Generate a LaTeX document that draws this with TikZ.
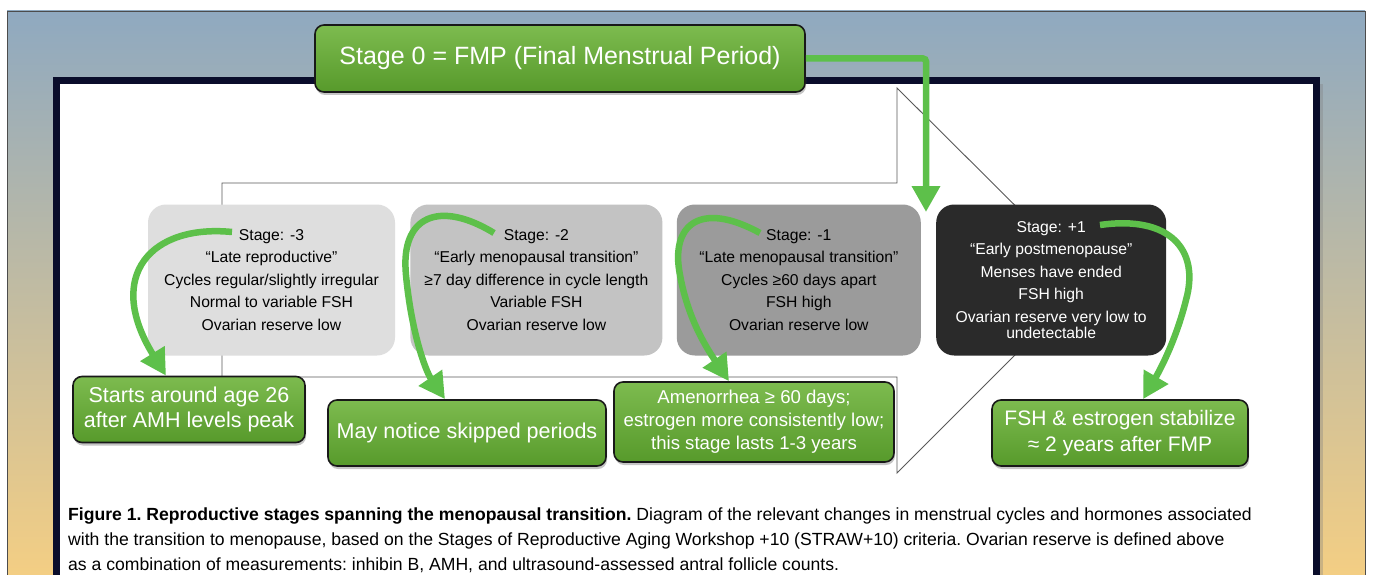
\documentclass[tikz,border=0pt]{standalone}
\usepackage{fontspec}
\setmainfont{Liberation Sans}
\usetikzlibrary{positioning,arrows.meta,shadows}

\definecolor{skytop}{HTML}{8FA9C0}
\definecolor{skymid}{HTML}{AEB7B3}
\definecolor{skybot}{HTML}{F6CF82}
\definecolor{navy}{HTML}{0A0D2B}
\definecolor{leafhi}{HTML}{7DBB4F}
\definecolor{leaflo}{HTML}{579A2B}
\definecolor{arrowgreen}{HTML}{5DC04A}
\definecolor{stagea}{HTML}{DEDEDE}
\definecolor{stageb}{HTML}{C3C3C3}
\definecolor{stagec}{HTML}{9B9B9B}
\definecolor{staged}{HTML}{2A2A2A}

\begin{document}
\begin{tikzpicture}[x=1pt,y=-1pt,
    stagebox/.style={rectangle,rounded corners=18pt,minimum height=151pt,align=center,inner sep=0pt,font=\fontsize{15.7}{22.5}\selectfont},
    notebox/.style={rectangle,rounded corners=9pt,draw=black!90,line width=1.6pt,top color=leafhi,bottom color=leaflo,text=white,align=center,minimum height=66pt,inner sep=0pt,drop shadow={shadow xshift=1pt,shadow yshift=-3pt,opacity=0.45}},
    greenarrow/.style={draw=arrowgreen,line width=6.5pt,-{Triangle[width=27pt,length=26pt]}}]

\useasboundingbox (0,0) rectangle (1373,575);

% Fond et page
\shadedraw[top color=skytop,middle color=skymid,bottom color=skybot,draw=gray!60!black] (7,11) rectangle (1365,590);
\draw[navy,line width=7pt,fill=white,drop shadow={shadow xshift=6pt,shadow yshift=-4pt,opacity=0.35}] (56.5,80.5) rectangle (1316.5,600);

% Fleche de contour
\draw[gray!70!black,line width=0.9pt] (222,183) -- (897,183) -- (897,88) -- (1090,280) -- (897,473) -- (897,377) -- (222,377) -- cycle;

% Stades
\node[stagebox,fill=stagea,minimum width=247pt] (s3) at (271.5,280)
    {Stage: -3\\“Late reproductive”\\Cycles regular/slightly irregular\\Normal to variable FSH\\Ovarian reserve low};
\node[stagebox,fill=stageb,minimum width=252pt,right=15pt of s3] (s2)
    {Stage: -2\\“Early menopausal transition”\\≥7 day difference in cycle length\\Variable FSH\\Ovarian reserve low};
\node[stagebox,fill=stagec,minimum width=244pt,right=14pt of s2] (s1)
    {Stage: -1\\“Late menopausal transition”\\Cycles ≥60 days apart\\FSH high\\Ovarian reserve low};
\node[stagebox,fill=staged,text=white,minimum width=230pt,right=15pt of s1] (p1)
    {Stage: +1\\“Early postmenopause”\\Menses have ended\\FSH high\\Ovarian reserve very low to\\[-6.5pt]undetectable};

% Notes
\node[notebox,minimum width=490pt,minimum height=67pt,font=\fontsize{25}{30}\selectfont] (fmp) at (560,58.5)
    {Stage 0 = FMP (Final Menstrual Period)};
\node[notebox,minimum width=232pt,font=\fontsize{21.5}{25}\selectfont] (n3) at (189,409.5)
    {Starts around age 26\\after AMH levels peak};
\node[notebox,minimum width=278pt,font=\fontsize{21.5}{25}\selectfont] (n2) at (467,433)
    {May notice skipped periods};
\node[notebox,minimum width=280pt,minimum height=80pt,font=\fontsize{18.6}{23}\selectfont] (n1) at (754,422)
    {Amenorrhea ≥ 60 days;\\estrogen more consistently low;\\this stage lasts 1-3 years};
\node[notebox,minimum width=256pt,font=\fontsize{21}{26}\selectfont] (n0) at (1120,433)
    {FSH \& estrogen stabilize\\≈ 2 years after FMP};

% Fleches vertes
\coordinate (fmpdrop) at (926,212);
\coordinate (tail3) at (232,232);
\coordinate (tail2) at (494,233);
\coordinate (tail1) at (760,233);
\coordinate (tailp) at (1100,225);

\draw[greenarrow,rounded corners=3pt] (fmp.east) -| (fmpdrop);
\draw[greenarrow] (tail3) .. controls (152,224) and (104,275) .. ([xshift=-23pt]n3.north);
\draw[greenarrow] (tail2) .. controls (440,200) and (400,215) .. (406,275)
    .. controls (411,330) and (425,370) .. ([xshift=-22pt]n2.north);
\draw[greenarrow] (tail1) .. controls (700,200) and (670,225) .. (680,275)
    .. controls (688,320) and (708,350) .. ([xshift=-25pt]n1.north);
\draw[greenarrow] (tailp) .. controls (1170,215) and (1200,250) .. (1186,300)
    .. controls (1176,340) and (1160,370) .. ([xshift=23pt]n0.north);

% Legende
\node[anchor=north west,align=left,inner sep=0pt,font=\fontsize{17.6}{24.8}\selectfont\frenchspacing] (caption) at (68,508)
    {\textbf{Figure 1.\ Reproductive stages spanning the menopausal transition.} Diagram of the relevant changes in menstrual cycles and hormones associated\\
     with the transition to menopause, based on the Stages of Reproductive Aging Workshop +10 (STRAW+10) criteria. Ovarian reserve is defined above\\
     as a combination of measurements: inhibin B, AMH, and ultrasound-assessed antral follicle counts.};

\end{tikzpicture}
\end{document}
